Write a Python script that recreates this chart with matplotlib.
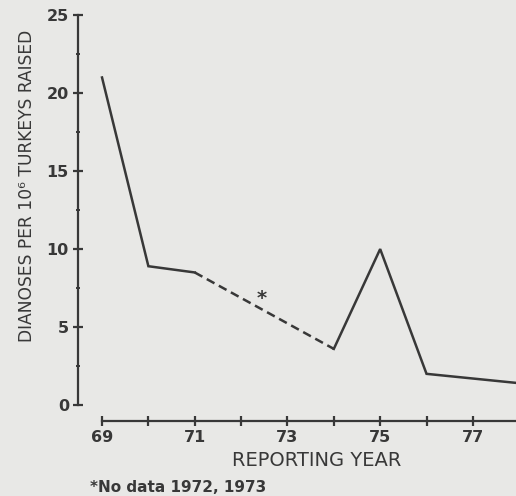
import matplotlib.pyplot as plt
from matplotlib.ticker import MultipleLocator

# reported diagnoses per million turkeys raised
years_a = [69, 70, 71]
rate_a = [21.0, 8.9, 8.5]
years_gap = [71, 74]          # no data 1972, 1973
rate_gap = [8.5, 3.6]
years_b = [74, 75, 76, 77, 78]
rate_b = [3.6, 10.0, 2.0, 1.7, 1.4]
tick_years = [69, 70, 71, 72, 73, 74, 75, 76, 77]
label_years = [69, 71, 73, 75, 77]

bg = '#e8e8e6'
ink = '#383838'

fig = plt.figure(figsize=(5.16, 4.96), dpi=100, facecolor=bg)
ax = fig.add_axes([0.151, 0.151, 0.849, 0.8343], facecolor=bg)

ax.plot(years_a, rate_a, color=ink, lw=1.8, solid_joinstyle='miter')
ax.plot(years_gap, rate_gap, color=ink, lw=1.8, ls=(0, (3.5, 2)))
ax.plot(years_b, rate_b, color=ink, lw=1.8, solid_joinstyle='miter')
ax.text(72.45, 6.8, '*', color=ink, fontsize=14, fontweight='bold',
        ha='center', va='center')

ax.set_xlim(68.48, 77.93)
ax.set_ylim(-1.03, 25.5)

for s in ['top', 'right']:
    ax.spines[s].set_visible(False)
ax.spines['left'].set_bounds(0, 25)
ax.spines['bottom'].set_bounds(69, 78)
for s in ['left', 'bottom']:
    ax.spines[s].set_color(ink)
    ax.spines[s].set_linewidth(1.6)

ax.set_xticks(tick_years)
ax.set_xticklabels([str(y) if y in label_years else '' for y in tick_years])
ax.set_yticks([0, 5, 10, 15, 20, 25])
ax.yaxis.set_minor_locator(MultipleLocator(2.5))
ax.tick_params(axis='both', direction='inout', length=7, width=1.6, color=ink,
               labelcolor=ink, labelsize=11.5)
ax.tick_params(axis='y', which='minor', direction='inout', length=3.5, width=1.4, color=ink)
ax.tick_params(axis='y', pad=3)
ax.tick_params(axis='x', pad=3)
for lab in ax.get_xticklabels() + ax.get_yticklabels():
    lab.set_fontweight('bold')

fig.text(27 / 516, 1 - 186 / 496, 'DIANOSES PER 10\u2076 TURKEYS RAISED', rotation=90,
         ha='center', va='center', fontsize=12.3, color=ink)
fig.text(317 / 516, 1 - 461 / 496, 'REPORTING YEAR', ha='center', va='center',
         fontsize=14, color=ink)
fig.text(90 / 516, 1 - 487 / 496, '*No data 1972, 1973', ha='left', va='center',
         fontsize=11, fontweight='bold', color=ink)

fig.savefig('out.png', dpi=100, facecolor=bg)
